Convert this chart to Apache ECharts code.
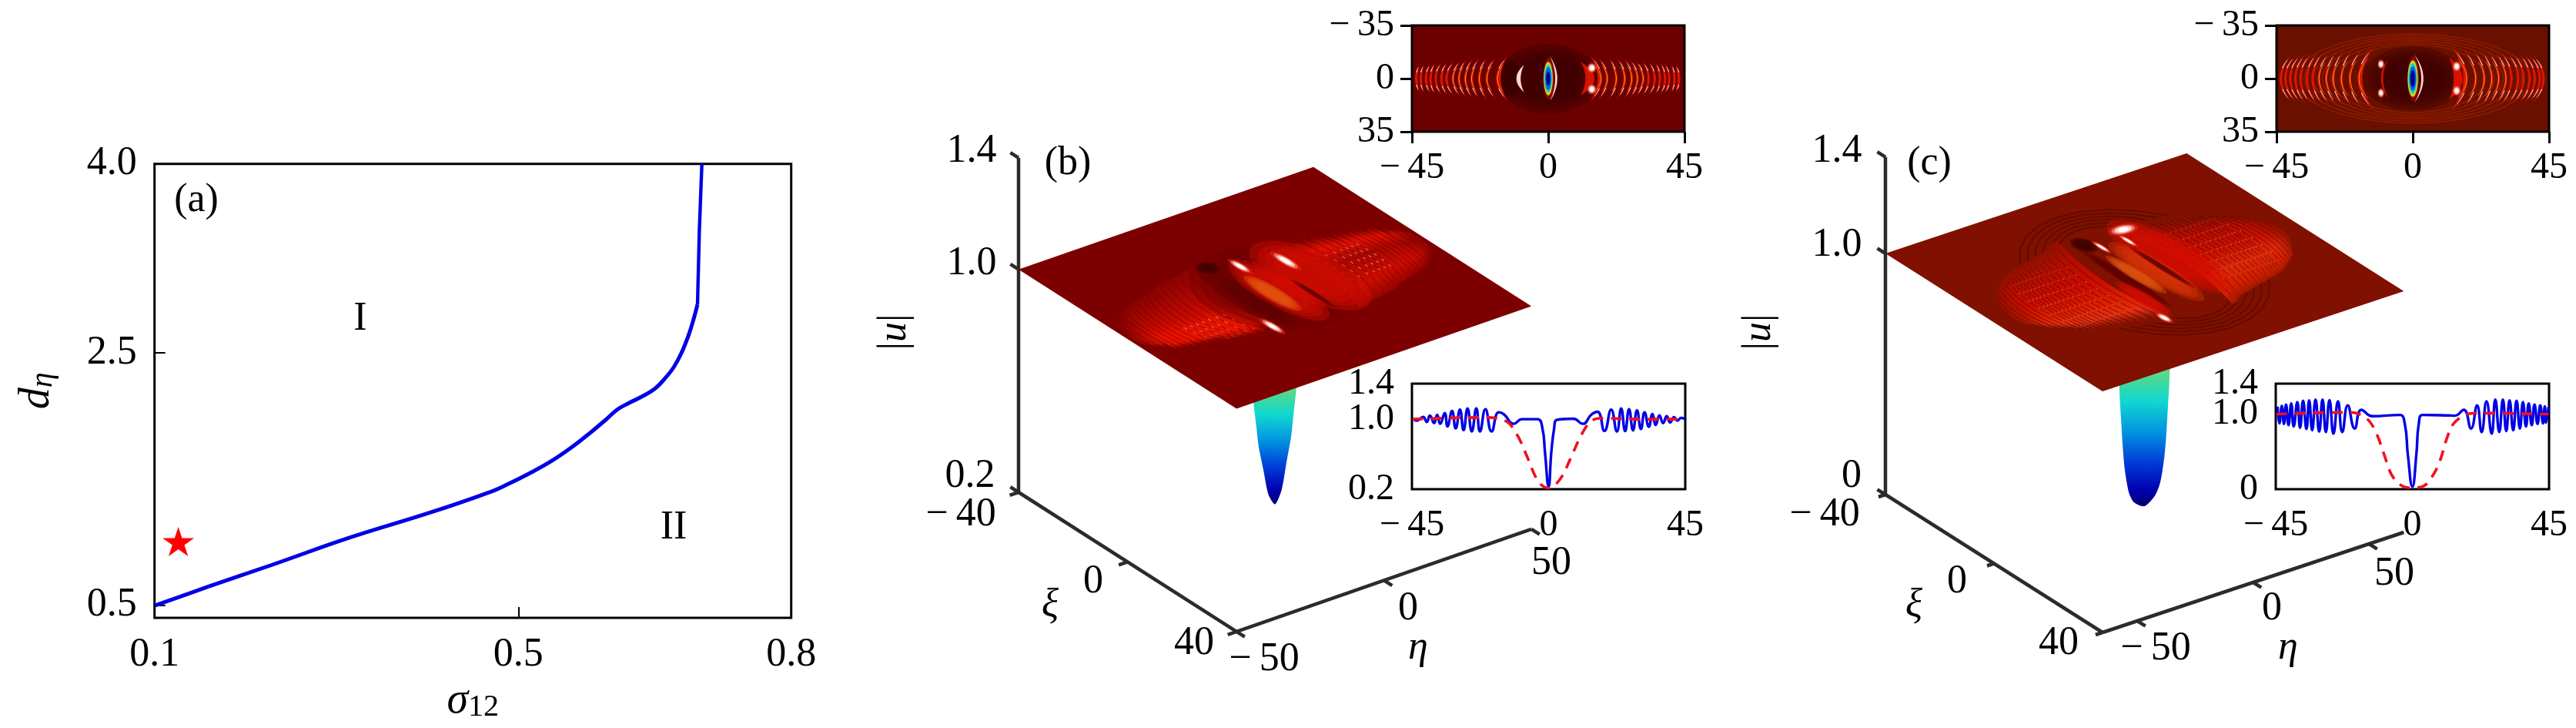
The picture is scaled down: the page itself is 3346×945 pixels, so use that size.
<!DOCTYPE html>
<html>
<head>
    <meta charset="utf-8" />
    <style>
        html, body { margin: 0; padding: 0; background: #fff; }
        #main { width: 3346px; height: 945px; }
    </style>
    <script src="https://cdn.jsdelivr.net/npm/echarts@6/dist/echarts.min.js"></script>
</head>
<body>
<div id="main"></div>
<script type="text/javascript">
    // panel (a): phase boundary
    var aSigma = [0.1008, 0.1587, 0.2292, 0.3138, 0.4041, 0.472, 0.4888, 0.5142, 0.5368, 0.5593, 0.5791, 0.596, 0.6087, 0.6214, 0.6355, 0.6496, 0.6609, 0.6708, 0.6793, 0.6877, 0.6933, 0.697, 0.699, 0.7018];
    var aDeta = [0.498, 0.646, 0.82, 1.034, 1.237, 1.406, 1.461, 1.553, 1.645, 1.756, 1.868, 1.97, 2.051, 2.103, 2.153, 2.214, 2.296, 2.387, 2.5, 2.652, 2.784, 2.886, 3.467, 4.0];
    var aStar = [0.1262, 1.005];
    var aXTicks = [0.1, 0.5, 0.8];
    var aYTicks = [0.5, 2.5, 4.0];

    // line insets, u against eta
    var bBlueEta = [-44.7, -43.4, -41.3, -40.1, -39.1, -37.7, -36.7, -35.7, -34.2, -33.3, -31.8, -30.6, -29.2, -28, -26.7, -25.3, -23.8, -22.6, -20.8, -18.8, -16.4, -14.7, -11.5, -8.8, -3.7, -2, -1.2, 0, 0.9, 1.8, 2.6, 8.1, 11.3, 14, 16.1, 18.4, 20.6, 22.5, 23.9, 25.2, 26.5, 27.8, 29.1, 30.4, 31.6, 33, 34.2, 35.3, 36.5, 37.7, 38.9, 40, 41.3, 42.4, 43.6, 44.9];
    var bBlue = [1.0, 0.98, 1.022, 0.964, 1.037, 0.952, 1.045, 0.943, 1.066, 0.914, 1.089, 0.891, 1.104, 0.871, 1.118, 0.856, 1.118, 0.856, 1.11, 0.856, 1.075, 1.05, 0.943, 0.996, 0.996, 0.885, 0.623, 0.229, 0.623, 0.885, 0.987, 1.002, 0.943, 1.045, 1.08, 0.862, 1.104, 0.856, 1.118, 0.86, 1.11, 0.87, 1.095, 0.885, 1.075, 0.91, 1.055, 0.93, 1.04, 0.95, 1.03, 0.96, 1.02, 0.98, 1.01, 1.0];
    var bRedEta = [-44.8, -20.3, -16.4, -13, -9.6, -7, -3.7, -1.2, 0, 1.4, 4.4, 7.8, 10.7, 14, 17.8, 30, 44.8];
    var bRed = [0.996, 1.016, 1.0, 0.949, 0.769, 0.564, 0.302, 0.22, 0.215, 0.226, 0.346, 0.594, 0.812, 0.973, 1.008, 0.996, 0.996];

    var cBlueEta = [-44.4, -43.8, -43, -42.3, -41.6, -40.8, -39.9, -39.1, -37.9, -37, -36, -34.9, -34, -33, -31.9, -30.7, -29.6, -28.5, -27.3, -26, -24.5, -23.1, -21.3, -19, -16.8, -13.1, -4.2, -2.5, -1.5, 0, 1.3, 2.1, 3.4, 11.8, 14, 16.9, 19.3, 21.3, 22.8, 24.4, 26.1, 27.3, 28.6, 29.8, 30.9, 32, 33.2, 34.3, 35.4, 36.4, 37.4, 38.3, 39.3, 40.2, 41.2, 42.1, 43, 43.6, 44, 44.8];
    var cBlue = [1.094, 0.873, 1.104, 0.866, 1.121, 0.849, 1.138, 0.832, 1.155, 0.815, 1.172, 0.799, 1.179, 0.782, 1.189, 0.765, 1.189, 0.758, 1.182, 0.737, 1.165, 0.758, 1.111, 0.805, 1.053, 0.968, 0.985, 0.866, 0.459, 0.034, 0.459, 0.866, 0.985, 0.979, 0.975, 1.053, 0.805, 1.111, 0.758, 1.165, 0.737, 1.189, 0.758, 1.189, 0.771, 1.179, 0.782, 1.172, 0.805, 1.155, 0.832, 1.138, 0.849, 1.121, 0.866, 1.111, 0.873, 1.098, 0.883, 1.087];
    var cRedEta = [-44.8, -20.3, -16.9, -14, -11.4, -9.3, -6.8, -3.4, 0, 3.8, 6.3, 8.9, 11.4, 13.5, 17.3, 21.2, 44.8];
    var cRed = [0.996, 1.019, 0.985, 0.894, 0.697, 0.459, 0.187, 0.044, 0.017, 0.044, 0.153, 0.357, 0.68, 0.866, 0.985, 1.009, 0.996];

    // wave fronts: eta at xi=0, eta at the tips, half length in xi (left lobe, then right lobe)
    var bArcMid = [-49, -47.5, -46, -44, -42.5, -40.8, -39.3, -37.6, -35.7, -34, -31.9, -29.9, -27.8, -25.7, -23.2, -20.7, -17.2, 17.8, 19.9, 22.9, 25.7, 28, 29.9, 31.8, 33.6, 35.6, 37.3, 39, 40.4, 42.1, 43.6, 46, 47.5, 49];
    var bArcTip = [-47.5, -46, -44.5, -42.5, -41, -38.8, -37.3, -35.1, -33.2, -31, -28.9, -26.9, -24.8, -22.7, -20.2, -17.2, -13.4, 14, 16.4, 19.9, 22.7, 25, 26.9, 28.8, 31, 33.1, 35.3, 37, 38.4, 40.6, 42.1, 44.5, 46, 47.5];
    var bArcXi = [6, 8, 9, 11, 11.5, 12, 12.5, 13, 13.5, 14, 14.5, 15.5, 16, 16.5, 17, 17, 18, 18, 17, 17, 16.5, 16, 15.5, 14.5, 14, 13.5, 13, 12.5, 12, 11.5, 11, 9, 8, 6];

    var cArcMid = [-58, -56, -54, -52, -50, -48, -46, -44, -42.5, -40.9, -39.2, -37.5, -35.4, -33.5, -31.4, -29, -26.7, -24, -21.2, -18.2, 18.2, 21.2, 24, 26.5, 28.8, 31.2, 33, 35.2, 37, 39, 40.7, 42.4, 43.6, 46, 48, 50, 52, 54, 56, 58];
    var cArcTip = [-54, -52, -50, -48, -46, -44, -42, -40, -38.5, -36.9, -35.2, -33.5, -31.4, -29.5, -27.4, -25, -22.7, -20, -16.7, -12.7, 12.7, 16.7, 20, 22.5, 24.8, 27.2, 29, 31.2, 33, 35, 36.7, 38.4, 39.6, 42, 44, 46, 48, 50, 52, 54];
    var cArcXi = [8, 10, 12, 13, 14, 15, 16, 17, 17, 17.5, 18, 18, 18.5, 19, 19, 19.5, 20, 20.5, 21, 23, 23, 21, 20.5, 20, 19.5, 19, 19, 18.5, 18, 18, 17.5, 17, 17, 16, 15, 14, 13, 12, 10, 8];
    var cRingEta = [24, 27, 30, 33, 36, 39];
    var cRingXi = [24.5, 26, 27.5, 29, 30.5, 32];

    // pit below the plane: |u| and half width in eta
    var bPitU = [0.72, 0.616, 0.533, 0.448, 0.365, 0.265, 0.223];
    var bPitHalf = [8, 7.3, 6.4, 5.5, 4, 2.2, 0];
    var cPitU = [0.7, 0.591, 0.495, 0.399, 0.302, 0.205, 0.109, 0.061, 0.03];
    var cPitHalf = [11.6, 11, 10.6, 10, 9.4, 8.5, 6.8, 4.6, 0];

    // bright/dark patches on the surface: [eta, xi, radius eta, radius xi, tone]
    var bBlobs = [
        [0, 0, 22, 21, 11], [12, 0, 11, 19, 3], [-9, 3, 3.5, 14, 1], [0, 1.5, 7, 17, 3], [6.5, 7, 1, 8, 1],
        [-2.4, 1.7, 3, 10, 5], [-8, -16, 3, 3, 0], [-0.3, -12.5, 1, 2.8, 6], [11.6, -8.6, 1.2, 3.6, 6], [-13.8, 14, 1, 3, 6]
    ];
    var cBlobs = [
        [14, -3, 11, 21, 3], [-8, 0, 2.5, 17, 1], [3.7, 1.2, 6, 17, 4], [-3.4, -0.2, 3, 11, 5], [7.2, 0.1, 1.5, 12, 1],
        [-5, -18, 4, 4, 0], [-12, 10, 3.5, 10, 3], [-14.7, 19.8, 1.2, 2, 6], [13, -19, 4, 1.6, 6], [9.4, -14.1, 0.8, 2.4, 6], [-1, -15, 0.8, 2.4, 6]
    ];
    var bTopBlobs = [
        [0, 0, 17, 23, 0], [-13, 0, 4, 14, 0], [0.2, 0, 1.9, 14, 3], [0, 0, 1.5, 11, 7], [0, 0, 1.25, 9, 8], [0, 0, 1, 7.5, 9], [0, 0, 0.65, 4.5, 10],
        [14.4, -7, 1.1, 2.4, 6], [14.4, 7, 1.1, 2.4, 6]
    ];
    var cTopBlobs = [
        [0, 0, 17, 21, 0], [0.2, 0, 2, 15, 3], [0, 0, 1.7, 12, 7], [0, 0, 1.35, 10, 8], [0, 0, 1.1, 8, 9], [0, 0, 0.75, 5.5, 10],
        [-10.5, -9.5, 0.8, 2.2, 6], [-10.5, 9.5, 0.8, 2.2, 6], [14.5, -8, 1, 2.4, 6], [14.5, 8, 1, 2.4, 6]
    ];
    // crescents inside the top views: eta at xi=0, eta at tips, half length, thickness, tone
    var bTopCres = [[-10.5, -8, 9, 1.4, 6], [15.3, 10.7, 11, 3, 3], [3, 0.5, 15, 0.7, 6]];
    var cTopCres = [[-10.5, -8, 13, 0.7, 3], [16.5, 12, 14, 3, 3], [3.5, 0.5, 16, 0.7, 6]];

    var serif = '"Liberation Serif", serif';
    var tones = ['#3a0000', '#5e0000', '#a80800', '#d40e00', '#de3408', '#e65a10', '#fff0ea', '#c8d820', '#10d0c8', '#0060e0', '#000090', '#6c0000'];

    var panelB = { x0: 1323, y0: 639, etaMin: -50, etaMax: 50, ex: 3.83, ey: -1.33, xiMin: -40, xiMax: 40, xx: 3.54, xy: 2.26, uMin: 0.2, uMax: 1.4, uu: 361.7,
        etaTicks: [-50, 0, 50], xiTicks: [-40, 0, 40], uTicks: [0.2, 1.0, 1.4], plane: '#7d0000' };
    var panelC = { x0: 2449, y0: 642, etaMin: -65, etaMax: 65, ex: 3.01, ey: -1.0, xiMin: -40, xiMax: 40, xx: 3.525, xy: 2.2375, uMin: 0, uMax: 1.4, uu: 313,
        etaTicks: [-50, 0, 50], xiTicks: [-40, 0, 40], uTicks: [0, 1.0, 1.4], plane: '#801000' };

    function project(p, eta, xi, u) {
        return [p.x0 + (eta - p.etaMin) * p.ex + (xi - p.xiMin) * p.xx,
                p.y0 + (eta - p.etaMin) * p.ey + (xi - p.xiMin) * p.xy - (u - p.uMin) * p.uu];
    }

    function arcEta(mid, tip, h, xi) {
        var s = xi / h;
        return tip + (mid - tip) * (1 - s * s);
    }
    function arcLine(mid, tip, h, a, b) {
        var pts = [];
        for (var i = 0; i <= 16; i++) {
            var xi = a + (b - a) * i / 16;
            pts.push([arcEta(mid, tip, h, xi), xi]);
        }
        return pts;
    }
    function crescent(mid, tip, h, t, a, b) {
        var inner = mid + (mid < 0 ? t : -t);
        return arcLine(mid, tip, h, a, b).concat(arcLine(inner, tip, h, a, b).reverse());
    }
    function ellipse(b, k) {
        var pts = [];
        k = k || 1;
        for (var i = 0; i < 28; i++) {
            var th = i / 28 * Math.PI * 2;
            pts.push([b[0] + b[2] * k * Math.cos(th), b[1] + b[3] * k * Math.sin(th)]);
        }
        return pts;
    }
    // soft patches are stacked ellipses
    function blobOps(list) {
        var ops = [];
        list.forEach(function (b) {
            if (b[4] > 6 && b[4] < 11) {
                ops.push({ pts: ellipse(b), fill: tones[b[4]] });
            } else if (b[4] === 6) {
                ops.push({ pts: ellipse(b, 1.5), fill: '#e83020', opacity: 0.45 });
                ops.push({ pts: ellipse(b, 1.15), fill: '#ff9a88', opacity: 0.65 });
                ops.push({ pts: ellipse(b, 0.85), fill: '#ffe0d8', opacity: 0.85 });
                ops.push({ pts: ellipse(b, 0.55), fill: '#ffffff' });
            } else {
                [1, 0.87, 0.74, 0.6].forEach(function (k) {
                    ops.push({ pts: ellipse(b, k), fill: tones[b[4]], opacity: 0.38 });
                });
            }
        });
        return ops;
    }

    // one custom series out of a list of draw ops, mapFn turns op points into screen points
    function opsSeries(ops, axisIndex, mapFn, clip) {
        return {
            type: 'custom', xAxisIndex: axisIndex, yAxisIndex: axisIndex, silent: true, animation: false, clip: !!clip,
            progressive: 0, z: 3,
            data: ops.map(function (o, i) { return [i]; }),
            renderItem: function (params, api) {
                var o = ops[params.dataIndex];
                var pts = o.pts.map(function (q) { return api.coord(mapFn(q)); });
                var alpha = o.opacity == null ? 1 : o.opacity;
                if (o.stroke) {
                    return { type: 'polyline', shape: { points: pts }, style: { fill: null, stroke: o.stroke, lineWidth: o.width, opacity: alpha } };
                }
                var fill = o.fill;
                if (o.grad) {
                    var g0 = api.coord(mapFn(o.grad[0])), g1 = api.coord(mapFn(o.grad[1]));
                    fill = new echarts.graphic.LinearGradient(g0[0], g0[1], g1[0], g1[1], o.grad[2], true);
                }
                return { type: 'polygon', shape: { points: pts, smooth: o.smooth || 0 }, style: { fill: fill, opacity: alpha } };
            }
        };
    }

    // the top-view map, drawn in eta/xi of the inset's own axes
    function topViewSeries(arcMid, arcTip, arcXi, blobs, cres, rings, axisIndex, shrink) {
        var ops = [];
        if (rings) {
            rings[0].forEach(function (r, i) {
                ops.push({ pts: ellipse([0, 0, r, rings[1][i] * 0.92, 0]).concat([[r, 0]]), stroke: '#8e1c00', width: 1.5 });
            });
        }
        ops = ops.concat(blobOps(blobs.slice(0, 2)));
        arcMid.forEach(function (mid, i) {
            if (Math.abs(mid) > 45) return;
            var tip = arcTip[i], h = arcXi[i] * shrink, a = Math.abs(mid);
            ops.push({ pts: crescent(mid, tip, h, a < 19 ? 1.5 : 0.85, -h, h), fill: '#dc1400' });
            if (a < 32) ops.push({ pts: crescent(mid + (mid < 0 ? 0.3 : -0.3), tip, h * 0.8, 0.22, -h * 0.6, h * 0.6), fill: '#e8b020' });
            ops.push({ pts: crescent(mid, tip, h, 0.4, -h * 0.8, -h * 0.45), fill: '#ffd0c8' });
            ops.push({ pts: crescent(mid, tip, h, 0.4, h * 0.45, h * 0.8), fill: '#ffd0c8' });
        });
        cres.forEach(function (c) {
            ops.push({ pts: crescent(c[0], c[1], c[2], c[3], -c[2], c[2]), fill: c[4] === 3 ? '#d81000' : '#ffd8d0' });
        });
        ops = ops.concat(blobOps(blobs.slice(2)));
        return opsSeries(ops, axisIndex, function (q) { return q; }, true);
    }

    // fins of the raised lobes on the 3D surface, outermost fins fade into the plane
    function finOps(mids, tips, xis, stops) {
        var ops = [];
        for (var i = 0; i < mids.length; i++) {
            var nextI = Math.min(i + 1, mids.length - 1);
            var h = xis[i], h2 = xis[nextI];
            var m2 = nextI === i ? mids[i] * 0.85 : mids[nextI];
            var t2 = nextI === i ? tips[i] * 0.85 : tips[nextI];
            var band = arcLine(mids[i], tips[i], h, -h, h).concat(arcLine(m2, t2, h2, -h2, h2).reverse());
            ops.push({ pts: band, fill: '#a80800', opacity: Math.min(1, (i + 1.5) / 5), grad: [[mids[i], -h], [mids[i], h], stops] });
        }
        return ops;
    }
    function finLines(mids, tips, xis, strength) {
        return mids.map(function (m, i) {
            return { pts: arcLine(m, tips[i], xis[i], -xis[i] * 0.85, xis[i] * 0.85), stroke: '#300000', width: 1, opacity: strength * Math.min(1, (i + 1) / 4) };
        });
    }
    function dotOps(mids, tips, xis, dots, len, minAbs, maxAbs) {
        var ops = [];
        mids.forEach(function (m, i) {
            var a = Math.abs(m);
            if (a < minAbs || a > maxAbs) return;
            dots.forEach(function (d) {
                if (Math.abs(d) > xis[i] * 0.8) return;
                ops.push({ pts: crescent(m, tips[i], xis[i], 0.24, d, d + len), fill: '#ffc8b8', opacity: 0.85 });
            });
        });
        return ops;
    }
    function stopsOf(list) {
        return list.map(function (s) { return { offset: s[0], color: s[1] }; });
    }

    function surfaceSeries(p, pitU, pitHalf, arcMid, arcTip, arcXi, blobs, rings, look) {
        var ops = [];
        var map = function (q) { return project(p, q[0], q[1], q.length > 2 ? q[2] : 1); };

        // pit first, the plane hides its top
        var pit = [], last = pitU.length - 1;
        pitU.forEach(function (u, i) { pit.push([-pitHalf[i], 0, u]); });
        for (var i = last - 1; i >= 0; i--) pit.push([pitHalf[i], 0, pitU[i]]);
        ops.push({ pts: pit, fill: '#0060e0', smooth: 0.25, grad: [[0, 0, pitU[0]], [0, 0, pitU[last]], stopsOf(look.pit)] });

        ops.push({ pts: [[p.etaMin, p.xiMin], [p.etaMax, p.xiMin], [p.etaMax, p.xiMax], [p.etaMin, p.xiMax]], fill: p.plane });

        if (rings) {
            rings[0].forEach(function (r, i) {
                ops.push({ pts: ellipse([0, 0, r, rings[1][i], 0]).concat([[r, 0]]), stroke: '#500800', width: 2, opacity: 0.6 });
            });
        }

        var n = arcMid.length / 2;
        var lm = arcMid.slice(0, n), lt = arcTip.slice(0, n), lx = arcXi.slice(0, n);
        var rm = arcMid.slice(n).reverse(), rt = arcTip.slice(n).reverse(), rx = arcXi.slice(n).reverse();
        ops = ops.concat(finOps(lm, lt, lx, stopsOf(look.left)), finOps(rm, rt, rx, stopsOf(look.right)));
        ops = ops.concat(finLines(lm, lt, lx, look.lines), finLines(rm, rt, rx, look.lines));
        ops = ops.concat(dotOps(lm, lt, lx, look.dotsLeft, look.dotLen, look.dotMin, look.dotMax));
        ops = ops.concat(dotOps(rm, rt, rx, look.dotsRight, look.dotLen, look.dotMin, look.dotMax));
        ops = ops.concat(blobOps(blobs));

        // box axes
        var ax = '#2b2b2b', w = 4.5;
        ops.push({ pts: [[p.etaMin, p.xiMin, p.uMin], [p.etaMin, p.xiMin, p.uMax]], stroke: ax, width: w });
        ops.push({ pts: [[p.etaMin, p.xiMin, p.uMin], [p.etaMin, p.xiMax, p.uMin]], stroke: ax, width: w });
        ops.push({ pts: [[p.etaMin, p.xiMax, p.uMin], [p.etaMax, p.xiMax, p.uMin]], stroke: ax, width: w });
        p.uTicks.forEach(function (u) { ops.push({ pts: [[p.etaMin, p.xiMin, u], [p.etaMin, p.xiMin - 3, u]], stroke: ax, width: w }); });
        p.xiTicks.forEach(function (x) { ops.push({ pts: [[p.etaMin, x, p.uMin], [p.etaMin - 3, x, p.uMin]], stroke: ax, width: w }); });
        p.etaTicks.forEach(function (e) { ops.push({ pts: [[e, p.xiMax, p.uMin], [e, p.xiMax + 3, p.uMin]], stroke: ax, width: w }); });
        return opsSeries(ops, 5, map, false);
    }

    var pitStops = [[0, '#a8e050'], [0.2, '#50d890'], [0.35, '#10d8d0'], [0.55, '#0090e0'], [0.72, '#0040d8'], [0.9, '#0000b0'], [1, '#000070']];
    var lookB = {
        pit: pitStops, lines: 0.35,
        left: [[0, '#7d0000'], [0.12, '#900300'], [0.45, '#c00800'], [0.68, '#e81200'], [0.88, '#e81200'], [1, '#7d0000']],
        right: [[0, '#7d0000'], [0.2, '#e01000'], [0.45, '#a80600'], [0.75, '#cc0c00'], [0.88, '#a80500'], [1, '#7d0000']],
        dotsLeft: [3, 6, 9, 12], dotsRight: [-6, -3, 0, 3, 6], dotLen: 1.1, dotMin: 19, dotMax: 35
    };
    var lookC = {
        pit: pitStops, lines: 0.5,
        left: [[0, '#801000'], [0.2, '#b00e00'], [0.45, '#cc0c00'], [0.7, '#e02000'], [0.85, '#e83010'], [1, '#801000']],
        right: [[0, '#801000'], [0.25, '#b80c00'], [0.5, '#c81000'], [0.72, '#e02808'], [0.86, '#d02000'], [1, '#801000']],
        dotsLeft: [-12, -8, -4, 0, 4, 8, 12], dotsRight: [-12, -8, -4, 0, 4, 8, 12], dotLen: 0.6, dotMin: 19, dotMax: 46
    };

    function pairs(xs, ys) {
        return xs.map(function (x, i) { return [x, ys[i]]; });
    }
    function signed(v) {
        return v < 0 ? '\u2212\u2009' + Math.abs(v) : String(v);
    }

    function insetTopAxes(gridIndex) {
        return {
            x: {
                type: 'value', gridIndex: gridIndex, min: -45, max: 45, position: 'bottom',
                axisLine: { show: false, onZero: false }, splitLine: { show: false },
                axisTick: { show: true, length: 15, customValues: [-45, 0, 45], lineStyle: { color: '#000', width: 3 } },
                axisLabel: { customValues: [-45, 0, 45], formatter: signed, margin: 23, color: '#000', fontFamily: serif, fontSize: 48, showMinLabel: true, showMaxLabel: true }
            },
            y: {
                type: 'value', gridIndex: gridIndex, min: -35, max: 35, inverse: true,
                axisLine: { show: false, onZero: false }, splitLine: { show: false },
                axisTick: { show: true, length: 15, customValues: [-35, 0, 35], lineStyle: { color: '#000', width: 3 } },
                axisLabel: { customValues: [-35, 0, 35], formatter: signed, margin: 23, color: '#000', fontFamily: serif, fontSize: 48, showMinLabel: true, showMaxLabel: true }
            }
        };
    }
    function insetLineAxes(gridIndex, uTicks, uMin) {
        return {
            x: {
                type: 'value', gridIndex: gridIndex, min: -45, max: 45, position: 'bottom',
                axisLine: { show: false, onZero: false }, splitLine: { show: false }, axisTick: { show: false },
                axisLabel: { customValues: [-45, 0, 45], formatter: signed, margin: 23, color: '#000', fontFamily: serif, fontSize: 48, showMinLabel: true, showMaxLabel: true }
            },
            y: {
                type: 'value', gridIndex: gridIndex, min: uMin, max: 1.4,
                axisLine: { show: false, onZero: false }, splitLine: { show: false }, axisTick: { show: false },
                axisLabel: {
                    customValues: uTicks, margin: 23, color: '#000', fontFamily: serif, fontSize: 48, showMinLabel: true, showMaxLabel: true,
                    formatter: function (v) { return v === 0 ? '0' : v.toFixed(1); }
                }
            }
        };
    }
    function lineSeries(gridIndex, eta, u, color, dashed) {
        return {
            type: 'line', xAxisIndex: gridIndex, yAxisIndex: gridIndex, data: pairs(eta, u), showSymbol: false, silent: true,
            animation: false, smooth: dashed ? 0.35 : 0.5, z: dashed ? 5 : 4, clip: false,
            lineStyle: { color: color, width: dashed ? 3.6 : 3.4, type: dashed ? [14, 10] : 'solid' }
        };
    }

    function label(text, x, y, size, rich, rotation) {
        var el = {
            type: 'text', x: x, y: y, z: 10, silent: true,
            style: { text: text, fill: '#000', fontFamily: serif, fontSize: size || 52, align: 'center', verticalAlign: 'middle' }
        };
        if (rich) el.style.rich = rich;
        if (rotation) el.rotation = rotation;
        return el;
    }
    var italicRich = { i: { fontStyle: 'italic', fontFamily: serif, fontSize: 52, fill: '#000', color: '#000' } };

    // 1.0 and 1.4 sit too close for the axis to keep both, so 1.0 is a plain text
    var bt = insetTopAxes(1), bl = insetLineAxes(2, [0.2, 1.4], 0.2);
    var ct = insetTopAxes(3), cl = insetLineAxes(4, [0, 1.4], 0);

    var option = {
        backgroundColor: '#fff',
        animation: false,
        grid: [
            { left: 200.7, top: 212.7, width: 827, height: 589.3, show: true, borderColor: '#000', borderWidth: 3, backgroundColor: 'transparent' },
            { left: 1834, top: 33, width: 354, height: 138, show: true, borderColor: '#000', borderWidth: 3, backgroundColor: '#6a0000' },
            { left: 1834, top: 498, width: 355, height: 137, show: true, borderColor: '#000', borderWidth: 3, backgroundColor: 'transparent' },
            { left: 2957, top: 33, width: 354, height: 138, show: true, borderColor: '#000', borderWidth: 3, backgroundColor: '#6a1000' },
            { left: 2956, top: 498, width: 355, height: 137, show: true, borderColor: '#000', borderWidth: 3, backgroundColor: 'transparent' },
            { left: 0, top: 0, width: 3346, height: 945, show: false }
        ],
        xAxis: [
            {
                type: 'value', gridIndex: 0, min: 0.1, max: 0.8, position: 'bottom',
                name: '{i|\u03c3}{s|12}', nameLocation: 'middle', nameGap: 80,
                nameTextStyle: { rich: { i: { fontStyle: 'italic', fontFamily: serif, fontSize: 56, color: '#000' }, s: { fontFamily: serif, fontSize: 40, color: '#000', verticalAlign: 'bottom', padding: [14, 0, 0, 0] } } },
                axisLine: { show: false, onZero: false }, splitLine: { show: false },
                axisTick: { show: true, inside: true, length: 14, customValues: aXTicks, lineStyle: { color: '#000', width: 2 } },
                axisLabel: { customValues: aXTicks, margin: 22, color: '#000', fontFamily: serif, fontSize: 52, showMinLabel: true, showMaxLabel: true, formatter: function (v) { return v.toFixed(1); } }
            },
            bt.x, bl.x, ct.x, cl.x,
            { type: 'value', gridIndex: 5, min: 0, max: 3346, show: false }
        ],
        yAxis: [
            {
                type: 'value', gridIndex: 0, min: 0.4, max: 4.0,
                name: '{i|d}{s|\u03b7}', nameLocation: 'middle', nameRotate: 90, nameGap: 124,
                nameTextStyle: { rich: { i: { fontStyle: 'italic', fontFamily: serif, fontSize: 56, color: '#000' }, s: { fontStyle: 'italic', fontFamily: serif, fontSize: 40, color: '#000', verticalAlign: 'bottom', padding: [14, 0, 0, 0] } } },
                axisLine: { show: false, onZero: false }, splitLine: { show: false },
                axisTick: { show: true, inside: true, length: 14, customValues: aYTicks, lineStyle: { color: '#000', width: 2 } },
                axisLabel: { customValues: aYTicks, margin: 23, color: '#000', fontFamily: serif, fontSize: 52, showMinLabel: true, showMaxLabel: true, formatter: function (v) { return v.toFixed(1); } }
            },
            bt.y, bl.y, ct.y, cl.y,
            { type: 'value', gridIndex: 5, min: 0, max: 945, inverse: true, show: false }
        ],
        graphic: [
            label('(a)', 255, 260),
            label('I', 468, 414),
            label('II', 875, 685),

            label('1.4', 1262, 196), label('1.0', 1262, 342), label('0.2', 1260, 618),
            label('(b)', 1387, 212),
            label('|{i|u}|', 1162, 431, 52, italicRich, Math.PI / 2),
            label('\u2212\u200940', 1248, 668), label('0', 1420, 755), label('{i|\u03be}', 1364, 786, 52, italicRich),
            label('40', 1551, 835), label('\u2212\u200950', 1642, 856), label('0', 1829, 790),
            label('{i|\u03b7}', 1842, 841, 52, italicRich), label('50', 2015, 731),
            label('1.0', 1781, 544, 48),

            label('1.4', 2386, 196), label('1.0', 2386, 318), label('0', 2405, 618),
            label('(c)', 2506, 212),
            label('|{i|u}|', 2285, 431, 52, italicRich, Math.PI / 2),
            label('\u2212\u200940', 2370, 668), label('0', 2542, 755), label('{i|\u03be}', 2486, 786, 52, italicRich),
            label('40', 2674, 835), label('\u2212\u200950', 2800, 842), label('0', 2951, 790),
            label('{i|\u03b7}', 2972, 841, 52, italicRich), label('50', 3110, 745),
            label('1.0', 2903, 537, 48)
        ],
        series: [
            {
                // lower part of the boundary, it bends smoothly
                type: 'line', xAxisIndex: 0, yAxisIndex: 0, data: pairs(aSigma, aDeta).slice(0, 22), showSymbol: false, silent: true, animation: false,
                smooth: 0.4, lineStyle: { color: '#0000e6', width: 5 }, z: 4
            },
            {
                // upper part runs almost straight from the corner
                type: 'line', xAxisIndex: 0, yAxisIndex: 0, data: pairs(aSigma, aDeta).slice(21), showSymbol: false, silent: true, animation: false,
                lineStyle: { color: '#0000e6', width: 4.4 }, z: 4
            },
            {
                type: 'scatter', xAxisIndex: 0, yAxisIndex: 0, data: [aStar], silent: true, animation: false, z: 5,
                symbol: 'path://M50,0 L61.8,36.3 L100,36.3 L69.1,58.8 L80.9,95.1 L50,72.6 L19.1,95.1 L30.9,58.8 L0,36.3 L38.2,36.3 Z',
                symbolSize: [41, 38], itemStyle: { color: '#ff0000', opacity: 1 }
            },
            surfaceSeries(panelB, bPitU, bPitHalf,
                bArcMid, bArcTip, bArcXi, bBlobs, null, lookB),
            surfaceSeries(panelC, cPitU, cPitHalf,
                cArcMid, cArcTip, cArcXi, cBlobs, [cRingEta, cRingXi], lookC),
            topViewSeries(bArcMid, bArcTip, bArcXi, bTopBlobs, bTopCres, null, 1, 0.82),
            topViewSeries(cArcMid, cArcTip, cArcXi, cTopBlobs, cTopCres, [cRingEta, cRingXi], 3, 0.92),
            lineSeries(2, bBlueEta, bBlue, '#0000e6', false),
            lineSeries(2, bRedEta, bRed, '#f01020', true),
            lineSeries(4, cBlueEta, cBlue, '#0000e6', false),
            lineSeries(4, cRedEta, cRed, '#f01020', true)
        ]
    };

    var chart = echarts.init(document.getElementById('main'), null, { renderer: 'canvas' });
    chart.setOption(option);
</script>
</body>
</html>
